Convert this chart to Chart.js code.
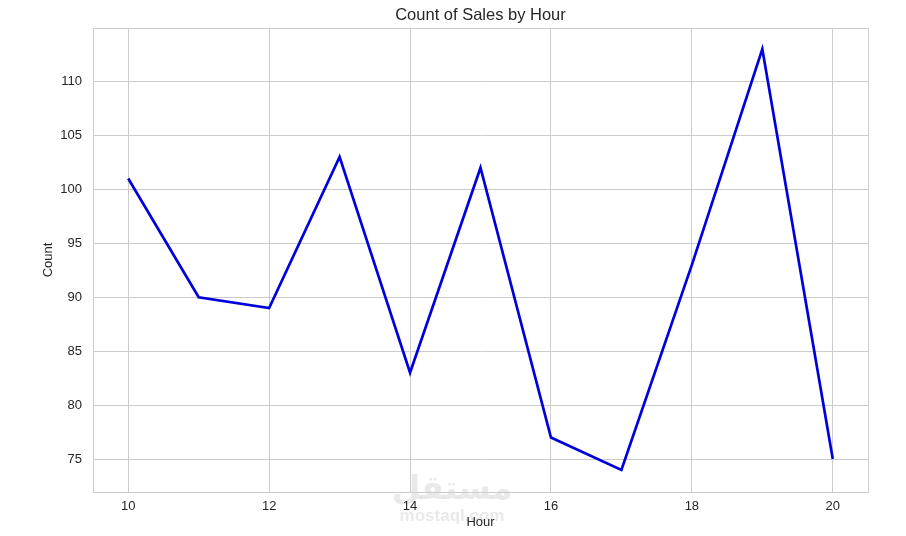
<!DOCTYPE html>
<html>
<head>
<meta charset="utf-8">
<script src="https://cdn.jsdelivr.net/npm/chart.js@4/dist/chart.umd.min.js"></script>
<style>
html,body{margin:0;padding:0;background:#fff;}
#wrap{width:906px;height:536px;}
</style>
</head>
<body>
<div id="wrap"><canvas id="c" width="906" height="536"></canvas></div>
<script>
const hours = [10, 11, 12, 13, 14, 15, 16, 17, 18, 19, 20];
const counts = [101, 90, 89, 103, 83, 102, 77, 74, 93, 113, 75];
const xTicks = [10, 12, 14, 16, 18, 20];
const yTicks = [75, 80, 85, 90, 95, 100, 105, 110];
const chartTitle = 'Count of Sales by Hour';

const FONT = "Arial, 'Liberation Sans', sans-serif";
const TXT = '#262626';
const GRID = '#cccccc';

const frame = {
  id: 'frame',
  beforeDraw(chart) {
    const ctx = chart.ctx;
    ctx.save();
    ctx.fillStyle = 'rgba(200,200,200,0.4)';
    ctx.textAlign = 'center';
    ctx.textBaseline = 'middle';
    ctx.font = "bold 33px 'Noto Sans', 'DejaVu Sans', sans-serif";
    ctx.fillText('مستقل', 452, 490);
    ctx.font = "bold 17px Arial, 'Liberation Sans', sans-serif";
    ctx.fillText('mostaql.com', 452, 516);
    ctx.restore();
  },
  beforeDatasetsDraw(chart) {
    const a = chart.chartArea, ctx = chart.ctx;
    ctx.save();
    ctx.strokeStyle = GRID;
    ctx.lineWidth = 1;
    ctx.strokeRect(Math.round(a.left) + 0.5, Math.round(a.top) + 0.5, Math.round(a.right - a.left), Math.round(a.bottom - a.top));
    ctx.restore();
  },
  afterDraw(chart) {
    const a = chart.chartArea, ctx = chart.ctx;
    ctx.save();
    ctx.fillStyle = TXT;
    ctx.textAlign = 'center';
    ctx.textBaseline = 'middle';
    ctx.font = "16.5px " + FONT;
    ctx.fillText(chartTitle, (a.left + a.right) / 2, 15);
    ctx.restore();
  }
};

new Chart(document.getElementById('c'), {
  type: 'line',
  data: {
    datasets: [{
      data: hours.map((h, i) => ({x: h, y: counts[i]})),
      borderColor: '#0000dd',
      borderWidth: 2.7,
      pointRadius: 0,
      tension: 0,
      fill: false
    }]
  },
  options: {
    responsive: false,
    animation: false,
    layout: {padding: {left: 0, right: 38, top: 28, bottom: 0}},
    plugins: {
      legend: {display: false},
      tooltip: {enabled: false},
      title: {display: false}
    },
    scales: {
      x: {
        type: 'linear',
        min: 9.5,
        max: 20.5,
        afterBuildTicks: s => { s.ticks = xTicks.map(v => ({value: v})); },
        afterFit: s => { s.height = 44; },
        grid: {color: GRID, drawTicks: false},
        border: {display: false},
        ticks: {color: TXT, font: {family: FONT, size: 13}, padding: 7, maxRotation: 0},
        title: {display: true, text: 'Hour', color: TXT, font: {family: FONT, size: 13}, padding: {top: 0, bottom: 6}}
      },
      y: {
        type: 'linear',
        min: 71.95,
        max: 114.95,
        afterBuildTicks: s => { s.ticks = yTicks.map(v => ({value: v})); },
        afterFit: s => { s.width = 93; },
        grid: {color: GRID, drawTicks: false},
        border: {display: false},
        ticks: {color: TXT, font: {family: FONT, size: 13}, padding: 11},
        title: {display: true, text: 'Count', color: TXT, font: {family: FONT, size: 13}, padding: {top: 41, bottom: 0}}
      }
    }
  },
  plugins: [frame]
});
</script>
</body>
</html>
